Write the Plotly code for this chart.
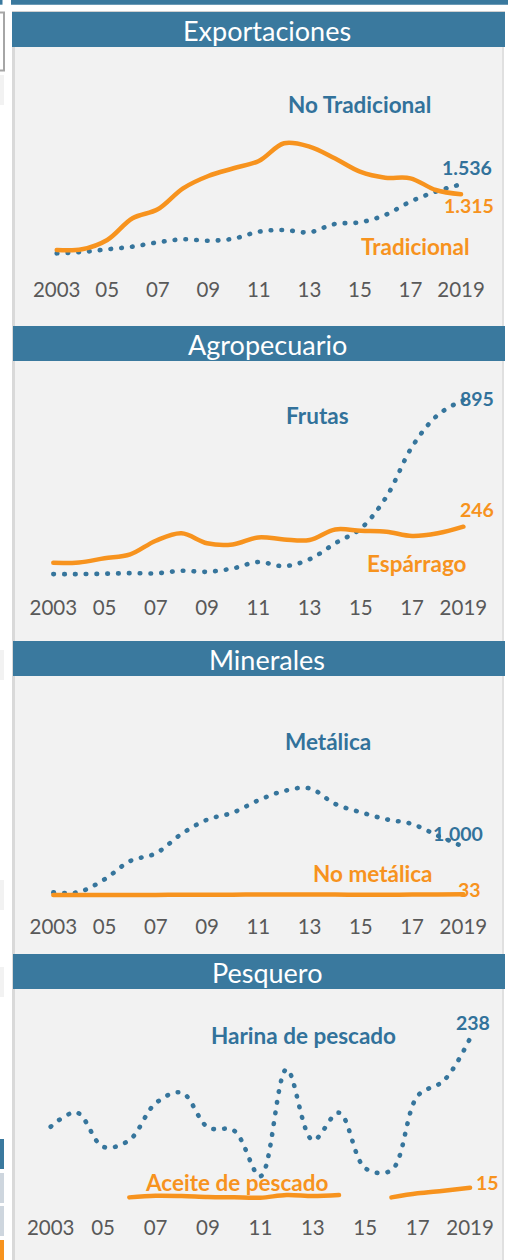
import plotly.graph_objects as go

# ---------------- data ----------------
years = list(range(2003, 2020))
tick_years = [2003, 2005, 2007, 2009, 2011, 2013, 2015, 2017, 2019]
tick_text = ["2003", "05", "07", "09", "11", "13", "15", "17", "2019"]

panel_titles = ["Exportaciones", "Agropecuario", "Minerales", "Pesquero"]
blue_names = ["No Tradicional", "Frutas", "Metálica", "Harina de pescado"]
orange_names = ["Tradicional", "Espárrago", "No metálica", "Aceite de pescado"]

exp_no_tradicional = [10, 40, 99, 158, 254, 320, 290, 335, 489, 526, 475, 659, 696, 858, 1153, 1374, 1536]
exp_tradicional = [84, 99, 305, 784, 983, 1447, 1720, 1890, 2052, 2443, 2369, 2111, 1816, 1683, 1668, 1410, 1315]

agro_frutas = [3, 3, 5, 8, 7, 20, 15, 32, 65, 44, 79, 161, 237, 400, 656, 818, 895]
agro_esparrago = [61, 63, 84, 104, 174, 212, 161, 155, 191, 181, 178, 232, 225, 220, 198, 212, 246]

min_metalica = [74, 81, 338, 710, 865, 1257, 1548, 1690, 1940, 2130, 2184, 1866, 1697, 1555, 1460, 1223, 1000]
min_no_metalica = [20, 20, 20, 20, 22, 24, 25, 27, 30, 30, 30, 28, 27, 27, 28, 30, 33]

pes_harina = [106, 127, 76, 86, 141, 157, 105, 100, 32, 192, 86, 127, 44, 41, 152, 175, 238]
pes_aceite = [None, None, None, 0.5, 3, 2.5, 1, 0.5, 0, 4, 2.5, 4, None, 0.5, 6.5, 10.5, 15]

blue_series = [exp_no_tradicional, agro_frutas, min_metalica, pes_harina]
orange_series = [exp_tradicional, agro_esparrago, min_no_metalica, pes_aceite]

# ---------------- style / layout ----------------
W, H = 508, 1260
BLUE = "#36759C"
BLUE_TXT = "#32729B"
ORANGE = "#F7931E"
HEADER = "#3A799E"
BG = "#F2F2F2"
TICK = "#595959"
FONT = "Lato"


def px(x):
    return x / W


def py(y):
    return 1 - y / H


# per panel: header top/bottom, plot domain top/bottom (px), zero line px, units per px,
# x px of first year, px per year
panels = [
    dict(h0=12, h1=47, d0=50, d1=275, zero=253.8, upp=22.1, x0=56.7, ppy=25.27),
    dict(h0=326, h1=361, d0=365, d1=593, zero=574.7, upp=5.124, x0=53.3, ppy=25.63),
    dict(h0=641, h1=676, d0=680, d1=912, zero=896.0, upp=20.28, x0=53.3, ppy=25.63),
    dict(h0=954, h1=989, d0=992, d1=1213, zero=1197.7, upp=1.494, x0=50.7, ppy=26.21),
]

# label positions (px): blue name, orange name, blue value, orange value
label_pos = [
    dict(bn=(359, 104), on=(415, 247), bv=(467, 168), ov=(469, 206)),
    dict(bn=(317, 416), on=(417, 563), bv=(477, 398), ov=(477, 509)),
    dict(bn=(328, 741), on=(373, 873), bv=(458, 833), ov=(469, 889)),
    dict(bn=(303, 1035), on=(236, 1182), bv=(473, 1022), ov=(487, 1182)),
]

DOM_L, DOM_R = 16, 502


def fmt(v):
    return f"{v:,.0f}".replace(",", ".")


fig = go.Figure()
shapes = []
annotations = []


def rect(x0, y0, x1, y1, color, line=None):
    d = dict(type="rect", xref="paper", yref="paper",
             x0=px(x0), x1=px(x1), y0=py(y1), y1=py(y0),
             fillcolor=color, layer="below", line=dict(width=0))
    if line:
        d["line"] = line
    shapes.append(d)


# page decorations
rect(11, 0, 508, 4.7, HEADER)
rect(0, 0, 2.5, 4.7, HEADER)
rect(-3, 12.5, 4, 70.5, "white", line=dict(color="#A6A6A6", width=2))
rect(0, 75, 4, 105, BG)
rect(0, 650, 4, 680, BG)
rect(0, 880, 4, 910, BG)
rect(0, 967, 4, 997, BG)
rect(0, 1139, 4, 1169, HEADER)
rect(0, 1173, 4, 1203, "#CED6DE")
rect(0, 1206, 4, 1236, "#CED6DE")
rect(0, 1240, 4, 1260, ORANGE)

# panel background
rect(12, 47, 504, 1260, BG)
rect(12, 47, 15, 1260, "#D9D9D9")
rect(502, 47, 504, 1260, "#E0E0E0")
rect(12, 11, 505, 12, "#D0D0D0")

layout_axes = {}
for i, p in enumerate(panels):
    n = i + 1
    xa = "x" if n == 1 else f"x{n}"
    ya = "y" if n == 1 else f"y{n}"
    # header
    rect(12 if i == 0 else 13, p["h0"], 505, p["h1"], HEADER)
    annotations.append(dict(text=panel_titles[i], xref="paper", yref="paper",
                            x=px(267), y=py((p["h0"] + p["h1"]) / 2 + 1),
                            xanchor="center", yanchor="middle", showarrow=False,
                            font=dict(family=FONT, size=27, color="white")))
    # traces
    fig.add_trace(go.Scatter(x=years, y=blue_series[i], xaxis=xa, yaxis=ya,
                             mode="lines", line=dict(color=BLUE, width=4.6, dash="0.6px,10.2px",
                                                     shape="spline", smoothing=1),
                             connectgaps=False, showlegend=False, hoverinfo="skip"))
    fig.add_trace(go.Scatter(x=years, y=orange_series[i], xaxis=xa, yaxis=ya,
                             mode="lines", line=dict(color=ORANGE, width=4.5,
                                                     shape="spline", smoothing=1),
                             connectgaps=False, showlegend=False, hoverinfo="skip"))
    # axes
    xr = [2003 - (p["x0"] - DOM_L) / p["ppy"], 2003 + (DOM_R - p["x0"]) / p["ppy"]]
    yr = [(p["zero"] - p["d1"]) * p["upp"], (p["zero"] - p["d0"]) * p["upp"]]
    layout_axes[f"xaxis{'' if n == 1 else n}"] = dict(
        domain=[px(DOM_L), px(DOM_R)], anchor=ya, range=xr,
        tickvals=tick_years, ticktext=tick_text, showgrid=False, zeroline=False,
        showline=False, ticks="", tickfont=dict(family=FONT, size=20.5, color=TICK),
        fixedrange=True)
    layout_axes[f"yaxis{'' if n == 1 else n}"] = dict(
        domain=[py(p["d1"]), py(p["d0"])], anchor=xa, range=yr, visible=False,
        fixedrange=True)
    # labels
    lp = label_pos[i]
    for key, txt, col, size in [("bn", blue_names[i], BLUE_TXT, 22.5),
                                ("on", orange_names[i], ORANGE, 22.5),
                                ("bv", fmt(blue_series[i][-1]), BLUE_TXT, 19.5),
                                ("ov", fmt(orange_series[i][-1]), ORANGE, 19.5)]:
        x, y = lp[key]
        annotations.append(dict(text=f"<b>{txt}</b>", xref="paper", yref="paper",
                                x=px(x), y=py(y), xanchor="center", yanchor="middle",
                                showarrow=False,
                                font=dict(family=FONT, size=size, color=col)))

fig.update_layout(width=W, height=H, autosize=False,
                  margin=dict(l=0, r=0, t=0, b=0),
                  paper_bgcolor="white", plot_bgcolor="rgba(0,0,0,0)",
                  shapes=shapes, annotations=annotations,
                  font=dict(family=FONT), **layout_axes)

post = ("document.body.style.margin='0';"
        "document.querySelectorAll('.js-line').forEach(p => p.style.strokeLinecap='round');")
fig.write_html("out.html", config={"displayModeBar": False}, post_script=post)
